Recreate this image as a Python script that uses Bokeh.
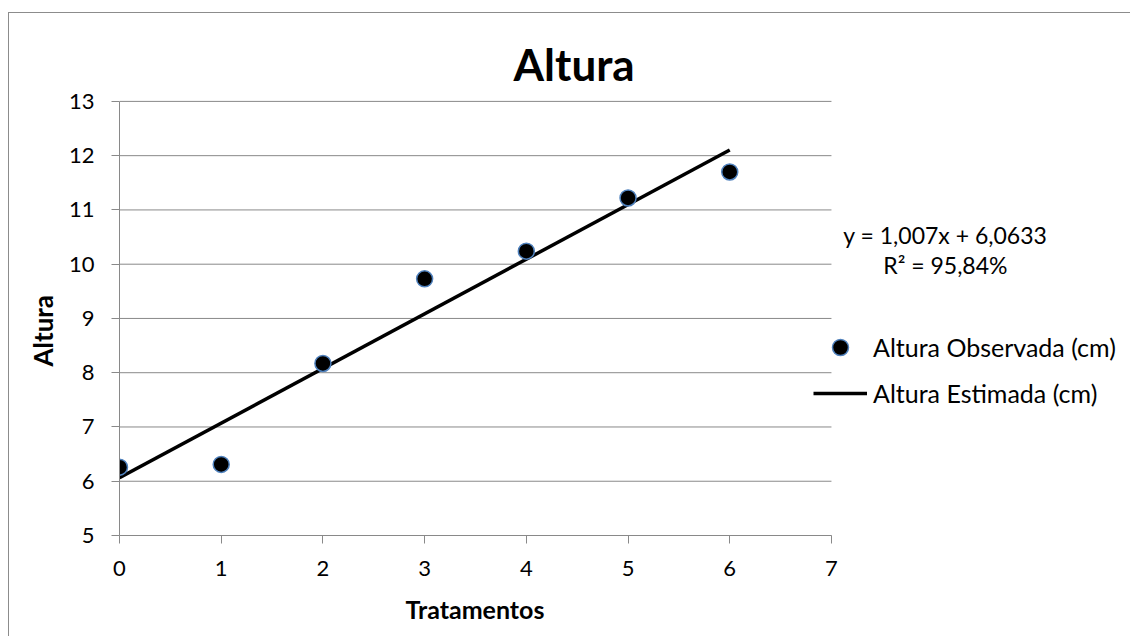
from bokeh.plotting import figure
from bokeh.models import Label, Legend, LegendItem, FixedTicker, ColumnDataSource, Title
from bokeh.embed import file_html
from bokeh.resources import INLINE

# ---- data ----
tratamentos = [0, 1, 2, 3, 4, 5, 6]
altura_observada = [6.26, 6.31, 8.17, 9.73, 10.24, 11.22, 11.70]
slope = 1.007
intercept = 6.0633
r2_text = "R² = 95,84%"
eq_text = "y = 1,007x + 6,0633"
x_ticks = [0, 1, 2, 3, 4, 5, 6, 7]
y_ticks = [5, 6, 7, 8, 9, 10, 11, 12, 13]
title_text = "Altura"
x_label = "Tratamentos"
y_label = "Altura"
series_obs = "Altura Observada (cm)"
series_est = "Altura Estimada (cm)"

line_x = [tratamentos[0], tratamentos[-1]]
line_y = [slope * v + intercept for v in line_x]

FONT = "Lato"
GRAY = "#898989"

X_MIN, X_MAX = x_ticks[0], x_ticks[-1]
Y_MIN, Y_MAX = y_ticks[0], y_ticks[-1]

p = figure(width=1122, height=624, x_range=(X_MIN, 9.95), y_range=(Y_MIN, 14.62),
           output_backend="svg", toolbar_location=None,
           min_border_left=110, min_border_right=0,
           min_border_top=0, min_border_bottom=102)
p.styles = {"border-top": "1px solid #8c8c8c", "border-left": "1px solid #8c8c8c",
            "margin-top": "12px", "margin-left": "8px"}
p.outline_line_color = None
p.background_fill_color = "white"
p.border_fill_color = "white"
p.xgrid.visible = False
p.ygrid.visible = False

# horizontal gridlines limited to the plot area
p.segment(x0=[X_MIN] * len(y_ticks), y0=y_ticks, x1=[X_MAX] * len(y_ticks), y1=y_ticks,
          line_color=GRAY, line_width=1)

# axes
p.xaxis.ticker = FixedTicker(ticks=x_ticks)
p.yaxis.ticker = FixedTicker(ticks=y_ticks)
p.xaxis.bounds = (X_MIN, X_MAX)
p.yaxis.bounds = (Y_MIN, Y_MAX)
for ax in (p.xaxis[0], p.yaxis[0]):
    ax.axis_line_color = GRAY
    ax.major_tick_line_color = GRAY
    ax.major_tick_in = 0
    ax.major_tick_out = 8
    ax.minor_tick_line_color = None
    ax.major_label_text_font = FONT
    ax.major_label_text_font_size = "22px"
    ax.major_label_text_color = "black"
p.xaxis.major_label_standoff = 17
p.yaxis.major_label_standoff = 17

# axis titles (placed as panel titles so they can be offset like the reference)
p.add_layout(Title(text=x_label, align="left", offset=286, text_font=FONT,
                   text_font_size="25px", text_font_style="bold",
                   text_color="black", standoff=26), "below")
p.add_layout(Title(text=y_label, align="left", offset=169, text_font=FONT,
                   text_font_size="26px", text_font_style="bold",
                   text_color="black", standoff=14), "left")

# series
r_line = p.line(line_x, line_y, line_color="black", line_width=3.5)
src = ColumnDataSource(data=dict(x=tratamentos, y=altura_observada))
r_pts = p.scatter("x", "y", source=src, size=16, fill_color="black",
                  line_color="#4F81BD", line_width=1.5)

# title
p.add_layout(Label(x=4.47, y=13.69, text=title_text, text_font=FONT,
                   text_font_size="44px", text_font_style="bold",
                   text_align="center", text_baseline="middle",
                   text_color="black"))

# equation
p.add_layout(Label(x=8.12, y=10.53, text=eq_text, text_font=FONT,
                   text_font_size="23px", text_align="center",
                   text_baseline="middle", text_color="black"))
p.add_layout(Label(x=8.12, y=9.98, text=r2_text, text_font=FONT,
                   text_font_size="23px", text_align="center",
                   text_baseline="middle", text_color="black"))

legend = Legend(items=[LegendItem(label=series_obs, renderers=[r_pts]),
                       LegendItem(label=series_est, renderers=[r_line])],
                location=(694, 122), orientation="vertical",
                padding=0, margin=0, spacing=6,
                glyph_width=54, glyph_height=40, label_height=40,
                label_standoff=6,
                label_text_font=FONT, label_text_font_size="25px",
                label_text_color="black",
                border_line_alpha=0, background_fill_alpha=0)
p.add_layout(legend, "center")

open("out.html", "w").write(file_html(p, INLINE))
